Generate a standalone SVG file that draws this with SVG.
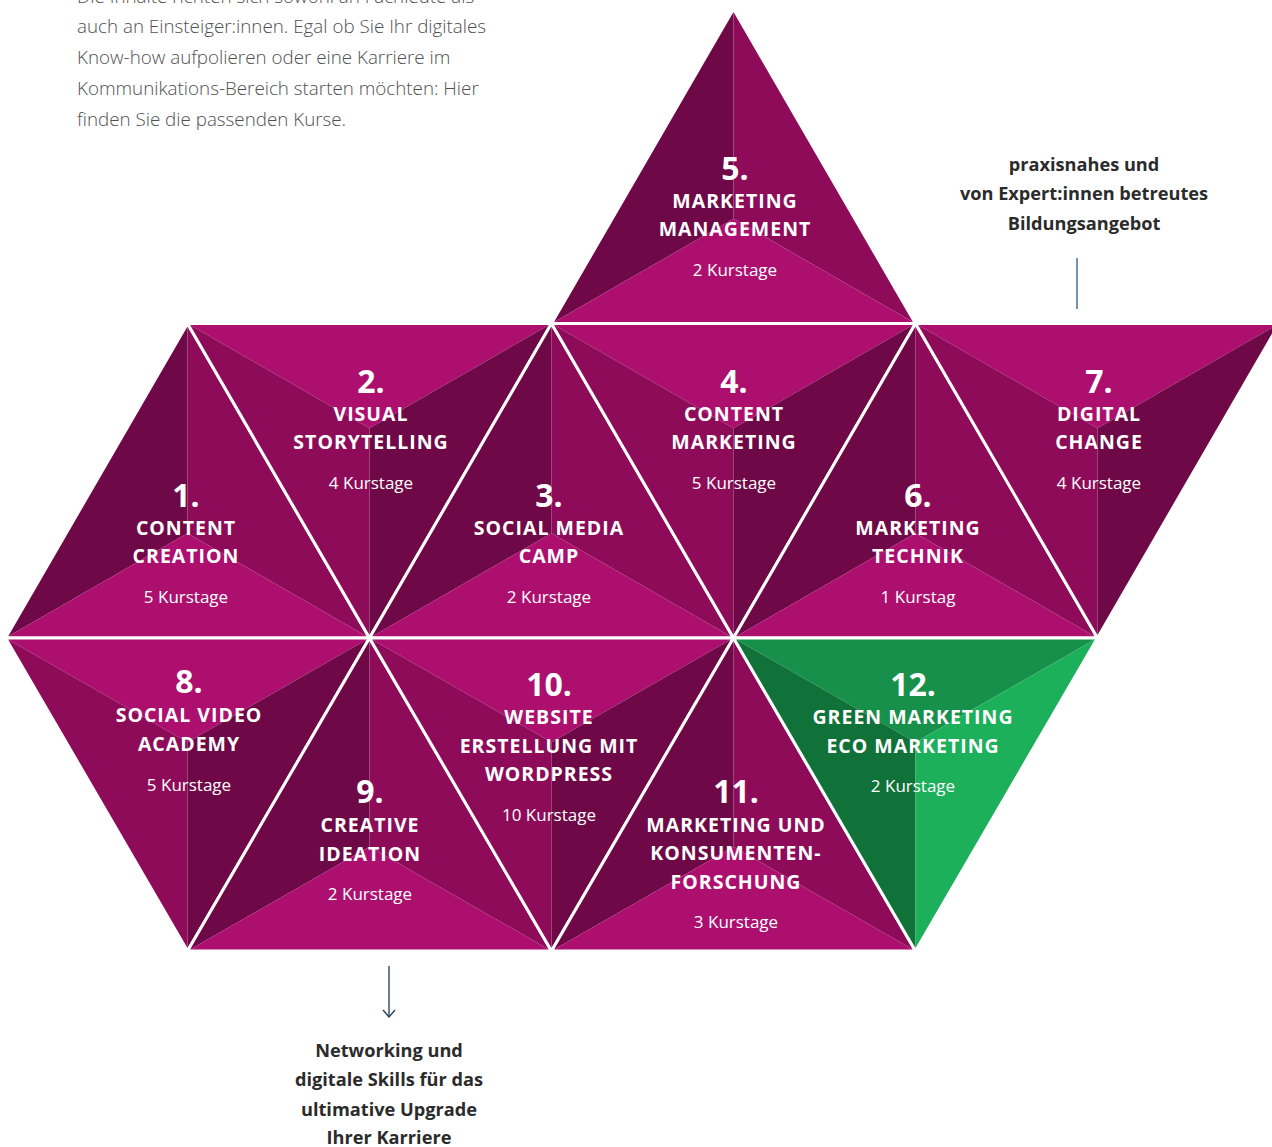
<svg xmlns="http://www.w3.org/2000/svg" width="1272" height="1147" viewBox="0 0 1272 1147">
<style>
.b{fill:#ad0f6f}.m{fill:#8e0b5a}.d{fill:#6f0846}
.gb{fill:#1cb05b}.gm{fill:#16904a}.gd{fill:#107238}
.ol{fill:none;stroke:#fff;stroke-width:3;stroke-linejoin:miter}
text{font-family:"Open Sans","Noto Sans","DejaVu Sans",sans-serif;text-anchor:middle;fill:#fff}
.num{font-size:32px;font-weight:700}
.ttl{font-size:19.5px;font-weight:700;letter-spacing:1px}
.day{font-size:17px;font-weight:400}
.intro{font-size:18.8px;font-weight:300;fill:#505050;text-anchor:start}
.side{font-size:18.2px;font-weight:700;fill:#2b2b2b}
.conn{fill:none;stroke:#1e3d5c;stroke-width:1.3}
</style>
<rect width="1272" height="1147" fill="#fff"/>

<g id="intro">
<text class="intro" x="77" y="2.5">Die Inhalte richten sich sowohl an Fachleute als</text>
<text class="intro" x="77" y="33">auch an Einsteiger:innen. Egal ob Sie Ihr digitales</text>
<text class="intro" x="77" y="64">Know-how aufpolieren oder eine Karriere im</text>
<text class="intro" x="77" y="95">Kommunikations-Bereich starten möchten: Hier</text>
<text class="intro" x="77" y="125.5">finden Sie die passenden Kurse.</text>
</g>

<g id="t5">
<polygon class="d" points="733.5,9 551.5,323.5 733.5,218.7"/>
<polygon class="m" points="733.5,9 915.5,323.5 733.5,218.7"/>
<polygon class="b" points="551.5,323.5 915.5,323.5 733.5,218.7"/>
<polygon class="ol" points="733.5,9 551.5,323.5 915.5,323.5"/>
<text class="num" x="735" y="180">5.</text>
<text class="ttl" x="735" y="208">MARKETING</text>
<text class="ttl" x="735" y="236">MANAGEMENT</text>
<text class="day" x="735" y="276">2 Kurstage</text>
</g>

<g id="t1">
<polygon class="d" points="187.5,323.5 5.5,638 187.5,533.2"/>
<polygon class="m" points="187.5,323.5 369.5,638 187.5,533.2"/>
<polygon class="b" points="5.5,638 369.5,638 187.5,533.2"/>
<polygon class="ol" points="187.5,323.5 5.5,638 369.5,638"/>
<text class="num" x="186" y="507">1.</text>
<text class="ttl" x="186" y="535">CONTENT</text>
<text class="ttl" x="186" y="563">CREATION</text>
<text class="day" x="186" y="603">5 Kurstage</text>
</g>

<g id="t2">
<polygon class="b" points="187.5,323.5 551.5,323.5 369.5,428.3"/>
<polygon class="m" points="187.5,323.5 369.5,638 369.5,428.3"/>
<polygon class="d" points="551.5,323.5 369.5,638 369.5,428.3"/>
<polygon class="ol" points="187.5,323.5 551.5,323.5 369.5,638"/>
<text class="num" x="371" y="393">2.</text>
<text class="ttl" x="371" y="421">VISUAL</text>
<text class="ttl" x="371" y="449">STORYTELLING</text>
<text class="day" x="371" y="489">4 Kurstage</text>
</g>

<g id="t3">
<polygon class="d" points="551.5,323.5 369.5,638 551.5,533.2"/>
<polygon class="m" points="551.5,323.5 733.5,638 551.5,533.2"/>
<polygon class="b" points="369.5,638 733.5,638 551.5,533.2"/>
<polygon class="ol" points="551.5,323.5 369.5,638 733.5,638"/>
<text class="num" x="549" y="507">3.</text>
<text class="ttl" x="549" y="535">SOCIAL MEDIA</text>
<text class="ttl" x="549" y="563">CAMP</text>
<text class="day" x="549" y="603">2 Kurstage</text>
</g>

<g id="t4">
<polygon class="b" points="551.5,323.5 915.5,323.5 733.5,428.3"/>
<polygon class="m" points="551.5,323.5 733.5,638 733.5,428.3"/>
<polygon class="d" points="915.5,323.5 733.5,638 733.5,428.3"/>
<polygon class="ol" points="551.5,323.5 915.5,323.5 733.5,638"/>
<text class="num" x="734" y="393">4.</text>
<text class="ttl" x="734" y="421">CONTENT</text>
<text class="ttl" x="734" y="449">MARKETING</text>
<text class="day" x="734" y="489">5 Kurstage</text>
</g>

<g id="t6">
<polygon class="d" points="915.5,323.5 733.5,638 915.5,533.2"/>
<polygon class="m" points="915.5,323.5 1097.5,638 915.5,533.2"/>
<polygon class="b" points="733.5,638 1097.5,638 915.5,533.2"/>
<polygon class="ol" points="915.5,323.5 733.5,638 1097.5,638"/>
<text class="num" x="918" y="507">6.</text>
<text class="ttl" x="918" y="535">MARKETING</text>
<text class="ttl" x="918" y="563">TECHNIK</text>
<text class="day" x="918" y="603">1 Kurstag</text>
</g>

<g id="t7">
<polygon class="b" points="915.5,323.5 1279.5,323.5 1097.5,428.3"/>
<polygon class="m" points="915.5,323.5 1097.5,638 1097.5,428.3"/>
<polygon class="d" points="1279.5,323.5 1097.5,638 1097.5,428.3"/>
<polygon class="ol" points="915.5,323.5 1279.5,323.5 1097.5,638"/>
<text class="num" x="1099" y="393">7.</text>
<text class="ttl" x="1099" y="421">DIGITAL</text>
<text class="ttl" x="1099" y="449">CHANGE</text>
<text class="day" x="1099" y="489">4 Kurstage</text>
</g>

<g id="t8">
<polygon class="b" points="5.5,638 369.5,638 187.5,742.3"/>
<polygon class="m" points="5.5,638 187.5,951 187.5,742.3"/>
<polygon class="d" points="369.5,638 187.5,951 187.5,742.3"/>
<polygon class="ol" points="5.5,638 369.5,638 187.5,951"/>
<text class="num" x="189" y="693">8.</text>
<text class="ttl" x="189" y="722">SOCIAL VIDEO</text>
<text class="ttl" x="189" y="751">ACADEMY</text>
<text class="day" x="189" y="791">5 Kurstage</text>
</g>

<g id="t9">
<polygon class="d" points="369.5,638 187.5,951 369.5,846.7"/>
<polygon class="m" points="369.5,638 551.5,951 369.5,846.7"/>
<polygon class="b" points="187.5,951 551.5,951 369.5,846.7"/>
<polygon class="ol" points="369.5,638 187.5,951 551.5,951"/>
<text class="num" x="370" y="803">9.</text>
<text class="ttl" x="370" y="832">CREATIVE</text>
<text class="ttl" x="370" y="861">IDEATION</text>
<text class="day" x="370" y="900">2 Kurstage</text>
</g>

<g id="t10">
<polygon class="b" points="369.5,638 733.5,638 551.5,742.3"/>
<polygon class="m" points="369.5,638 551.5,951 551.5,742.3"/>
<polygon class="d" points="733.5,638 551.5,951 551.5,742.3"/>
<polygon class="ol" points="369.5,638 733.5,638 551.5,951"/>
<text class="num" x="549" y="696">10.</text>
<text class="ttl" x="549" y="724">WEBSITE</text>
<text class="ttl" x="549" y="753">ERSTELLUNG MIT</text>
<text class="ttl" x="549" y="781">WORDPRESS</text>
<text class="day" x="549" y="821">10 Kurstage</text>
</g>

<g id="t11">
<polygon class="d" points="733.5,638 551.5,951 733.5,846.7"/>
<polygon class="m" points="733.5,638 915.5,951 733.5,846.7"/>
<polygon class="b" points="551.5,951 915.5,951 733.5,846.7"/>
<polygon class="ol" points="733.5,638 551.5,951 915.5,951"/>
<text class="num" x="736" y="803">11.</text>
<text class="ttl" x="736" y="832">MARKETING UND</text>
<text class="ttl" x="736" y="860">KONSUMENTEN-</text>
<text class="ttl" x="736" y="889">FORSCHUNG</text>
<text class="day" x="736" y="928">3 Kurstage</text>
</g>

<g id="t12">
<polygon class="gm" points="733.5,638 1097.5,638 915.5,742.3"/>
<polygon class="gd" points="733.5,638 915.5,951 915.5,742.3"/>
<polygon class="gb" points="1097.5,638 915.5,951 915.5,742.3"/>
<polygon class="ol" points="733.5,638 1097.5,638 915.5,951"/>
<text class="num" x="913" y="696">12.</text>
<text class="ttl" x="913" y="724">GREEN MARKETING</text>
<text class="ttl" x="913" y="753">ECO MARKETING</text>
<text class="day" x="913" y="792">2 Kurstage</text>
</g>

<g id="note-right">
<text class="side" x="1084" y="171">praxisnahes und</text>
<text class="side" x="1084" y="200">von Expert:innen betreutes</text>
<text class="side" x="1084" y="230">Bildungsangebot</text>
</g>

<g id="note-bottom">
<text class="side" x="389" y="1057">Networking und</text>
<text class="side" x="389" y="1086">digitale Skills für das</text>
<text class="side" x="389" y="1116">ultimative Upgrade</text>
<text class="side" x="389" y="1144">Ihrer Karriere</text>
</g>

<g id="connectors">
<line x1="1077" y1="258" x2="1077" y2="309" stroke="#54799a" stroke-width="1.6"/>
<line class="conn" x1="389" y1="966" x2="389" y2="1017"/>
<path class="conn" d="M383,1010 L389,1017 L395,1010"/>
</g>
</svg>
